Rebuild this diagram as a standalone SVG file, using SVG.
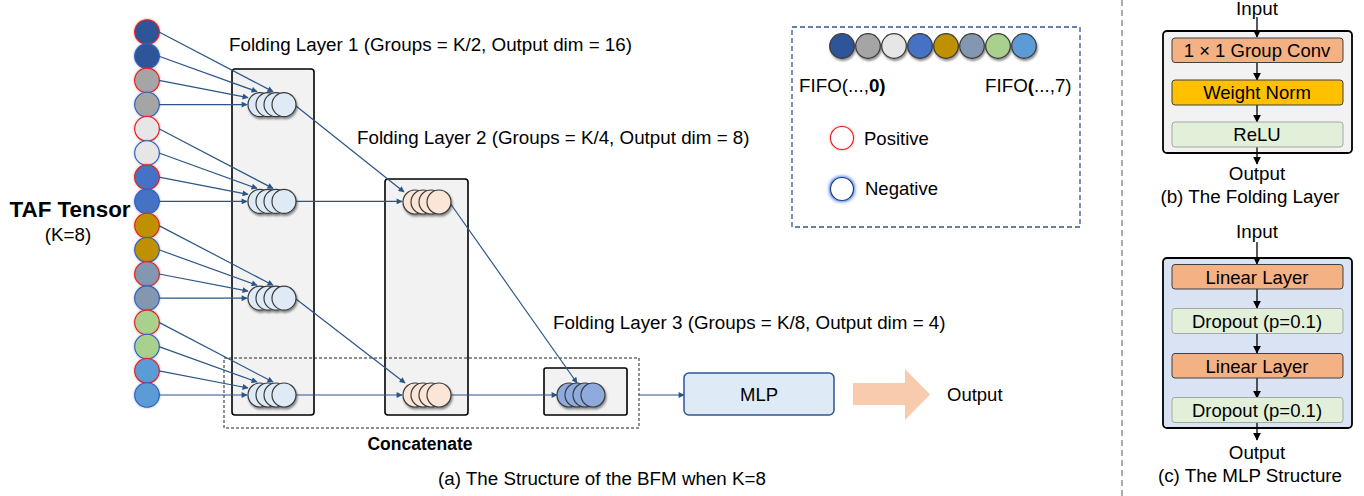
<svg xmlns="http://www.w3.org/2000/svg" width="1364" height="496" viewBox="0 0 1364 496">
<style>
text{font-family:"Liberation Sans",Arial,sans-serif;fill:#000}
.t16{font-size:18.8px}
.t17{font-size:18.5px}
.conn line{stroke:#2B5587;stroke-width:1.2;fill:none}
.blk line{stroke:#000;stroke-width:1.3}
.layer{fill:#F2F2F2;stroke:#000;stroke-width:1.6}
.sc{stroke:#3A3A3A;stroke-width:1.2}
.pos{stroke:#E02020;stroke-width:1.1}
.neg{stroke:#3060B8;stroke-width:1.1}
.box{stroke:#404040;stroke-width:1}
</style>
<defs>
<marker id="ah" viewBox="0 0 10 10" refX="9" refY="5" markerWidth="7" markerHeight="6" markerUnits="userSpaceOnUse" orient="auto"><path d="M0,0L10,5L0,10z" fill="#2B5587"/></marker>
<marker id="ak" viewBox="0 0 10 10" refX="9" refY="5" markerWidth="8" markerHeight="8" markerUnits="userSpaceOnUse" orient="auto"><path d="M0,0L10,5L0,10z" fill="#000"/></marker>
<filter id="glowR" x="-40%" y="-40%" width="180%" height="180%"><feGaussianBlur in="SourceAlpha" stdDeviation="1.1" result="b"/><feFlood flood-color="#FF2020" flood-opacity="0.55"/><feComposite in2="b" operator="in" result="g"/><feMerge><feMergeNode in="g"/><feMergeNode in="SourceGraphic"/></feMerge></filter>
<filter id="glowB" x="-40%" y="-40%" width="180%" height="180%"><feGaussianBlur in="SourceAlpha" stdDeviation="1.1" result="b"/><feFlood flood-color="#2F6BE0" flood-opacity="0.55"/><feComposite in2="b" operator="in" result="g"/><feMerge><feMergeNode in="g"/><feMergeNode in="SourceGraphic"/></feMerge></filter>
<filter id="glowB2" x="-50%" y="-50%" width="200%" height="200%"><feMorphology in="SourceAlpha" operator="dilate" radius="1" result="d"/><feGaussianBlur in="d" stdDeviation="1.5" result="b"/><feFlood flood-color="#2F6BE0" flood-opacity="0.8"/><feComposite in2="b" operator="in" result="g"/><feMerge><feMergeNode in="g"/><feMergeNode in="SourceGraphic"/></feMerge></filter>
<filter id="sh" x="-40%" y="-40%" width="180%" height="180%"><feDropShadow dx="1" dy="2" stdDeviation="1.2" flood-color="#000" flood-opacity="0.45"/></filter>
</defs>
<rect width="1364" height="496" fill="#fff"/>

<!-- titles -->
<text class="t16" x="229" y="51">Folding Layer 1 (Groups = K/2, Output dim = 16)</text>
<text class="t16" x="357" y="144">Folding Layer 2 (Groups = K/4, Output dim = 8)</text>
<text class="t16" x="553" y="329">Folding Layer 3 (Groups = K/8, Output dim = 4)</text>
<text x="70" y="217" text-anchor="middle" font-size="22.4" font-weight="bold">TAF Tensor</text>
<text class="t16" x="68" y="241" text-anchor="middle">(K=8)</text>

<!-- layer boxes -->
<g id="layer1"><rect class="layer" x="232" y="69" width="82" height="346" rx="3"/></g>
<g id="layer2"><rect class="layer" x="385" y="179" width="83" height="236" rx="3"/></g>
<g id="concat"><rect x="224" y="358" width="415" height="70" fill="none" stroke="#222" stroke-width="1" stroke-dasharray="3 2"/>
<text x="420" y="450" text-anchor="middle" font-size="17.5" font-weight="bold">Concatenate</text></g>
<g id="layer3"><rect class="layer" x="544" y="368" width="83" height="47" rx="2"/></g>

<!-- TAF tensor circles -->
<g id="taf">
<circle cx="147" cy="32" r="12.3" fill="#2F5597" class="pos" filter="url(#glowR)"/>
<circle cx="147" cy="56.2" r="12.3" fill="#2F5597" class="neg" filter="url(#glowB)"/>
<circle cx="147" cy="80.4" r="12.3" fill="#A5A5A5" class="pos" filter="url(#glowR)"/>
<circle cx="147" cy="104.6" r="12.3" fill="#A5A5A5" class="neg" filter="url(#glowB)"/>
<circle cx="147" cy="128.8" r="12.3" fill="#E7E6E6" class="pos" filter="url(#glowR)"/>
<circle cx="147" cy="153" r="12.3" fill="#E7E6E6" class="neg" filter="url(#glowB)"/>
<circle cx="147" cy="177.2" r="12.3" fill="#4472C4" class="pos" filter="url(#glowR)"/>
<circle cx="147" cy="201.4" r="12.3" fill="#4472C4" class="neg" filter="url(#glowB)"/>
<circle cx="147" cy="225.6" r="12.3" fill="#BF9000" class="pos" filter="url(#glowR)"/>
<circle cx="147" cy="249.8" r="12.3" fill="#BF9000" class="neg" filter="url(#glowB)"/>
<circle cx="147" cy="274" r="12.3" fill="#8497B0" class="pos" filter="url(#glowR)"/>
<circle cx="147" cy="298.2" r="12.3" fill="#8497B0" class="neg" filter="url(#glowB)"/>
<circle cx="147" cy="322.4" r="12.3" fill="#A9D18E" class="pos" filter="url(#glowR)"/>
<circle cx="147" cy="346.6" r="12.3" fill="#A9D18E" class="neg" filter="url(#glowB)"/>
<circle cx="147" cy="370.8" r="12.3" fill="#5B9BD5" class="pos" filter="url(#glowR)"/>
<circle cx="147" cy="395" r="12.3" fill="#5B9BD5" class="neg" filter="url(#glowB)"/>
</g>

<!-- connectors -->
<g id="connectors" class="conn">
<line x1="159" y1="32" x2="273" y2="91.6" marker-end="url(#ah)"/>
<line x1="159" y1="56.2" x2="257" y2="91.6" marker-end="url(#ah)"/>
<line x1="159" y1="80.4" x2="248" y2="97.6" marker-end="url(#ah)"/>
<line x1="159" y1="104.6" x2="247" y2="104.6" marker-end="url(#ah)"/>
<line x1="159" y1="128.8" x2="273" y2="188.4" marker-end="url(#ah)"/>
<line x1="159" y1="153" x2="257" y2="188.4" marker-end="url(#ah)"/>
<line x1="159" y1="177.2" x2="248" y2="194.4" marker-end="url(#ah)"/>
<line x1="159" y1="201.4" x2="247" y2="201.4" marker-end="url(#ah)"/>
<line x1="159" y1="225.6" x2="273" y2="285.2" marker-end="url(#ah)"/>
<line x1="159" y1="249.8" x2="257" y2="285.2" marker-end="url(#ah)"/>
<line x1="159" y1="274" x2="248" y2="291.2" marker-end="url(#ah)"/>
<line x1="159" y1="298.2" x2="247" y2="298.2" marker-end="url(#ah)"/>
<line x1="159" y1="322.4" x2="273" y2="382" marker-end="url(#ah)"/>
<line x1="159" y1="346.6" x2="257" y2="382" marker-end="url(#ah)"/>
<line x1="159" y1="370.8" x2="248" y2="388" marker-end="url(#ah)"/>
<line x1="159" y1="395" x2="247" y2="395" marker-end="url(#ah)"/>
<line x1="296" y1="106" x2="404" y2="192" marker-end="url(#ah)"/>
<line x1="296" y1="201.4" x2="402" y2="201.4" marker-end="url(#ah)"/>
<line x1="296" y1="299" x2="405" y2="383" marker-end="url(#ah)"/>
<line x1="296" y1="395" x2="402" y2="395" marker-end="url(#ah)"/>
<line x1="450" y1="203" x2="577" y2="383" marker-end="url(#ah)"/>
<line x1="451" y1="395" x2="557" y2="395" marker-end="url(#ah)"/>
<line x1="639" y1="395" x2="684" y2="395" marker-end="url(#ah)"/>
</g>

<!-- stacks layer 1 -->
<g id="l1s1" filter="url(#sh)"><circle class="sc" cx="260" cy="104.6" r="12" fill="#DEEBF7"/><circle class="sc" cx="268" cy="104.6" r="12" fill="#DEEBF7"/><circle class="sc" cx="276" cy="104.6" r="12" fill="#DEEBF7"/><circle class="sc" cx="284" cy="104.6" r="12" fill="#DEEBF7"/></g>
<g id="l1s2" filter="url(#sh)"><circle class="sc" cx="260" cy="201.4" r="12" fill="#DEEBF7"/><circle class="sc" cx="268" cy="201.4" r="12" fill="#DEEBF7"/><circle class="sc" cx="276" cy="201.4" r="12" fill="#DEEBF7"/><circle class="sc" cx="284" cy="201.4" r="12" fill="#DEEBF7"/></g>
<g id="l1s3" filter="url(#sh)"><circle class="sc" cx="260" cy="298.2" r="12" fill="#DEEBF7"/><circle class="sc" cx="268" cy="298.2" r="12" fill="#DEEBF7"/><circle class="sc" cx="276" cy="298.2" r="12" fill="#DEEBF7"/><circle class="sc" cx="284" cy="298.2" r="12" fill="#DEEBF7"/></g>
<g id="l1s4" filter="url(#sh)"><circle class="sc" cx="260" cy="395" r="12" fill="#DEEBF7"/><circle class="sc" cx="268" cy="395" r="12" fill="#DEEBF7"/><circle class="sc" cx="276" cy="395" r="12" fill="#DEEBF7"/><circle class="sc" cx="284" cy="395" r="12" fill="#DEEBF7"/></g>
<!-- stacks layer 2 -->
<g id="l2s1" filter="url(#sh)"><circle class="sc" cx="415" cy="202" r="12" fill="#FBE5D6"/><circle class="sc" cx="423" cy="202" r="12" fill="#FBE5D6"/><circle class="sc" cx="431" cy="202" r="12" fill="#FBE5D6"/><circle class="sc" cx="439" cy="202" r="12" fill="#FBE5D6"/></g>
<g id="l2s2" filter="url(#sh)"><circle class="sc" cx="415" cy="395" r="12" fill="#FBE5D6"/><circle class="sc" cx="423" cy="395" r="12" fill="#FBE5D6"/><circle class="sc" cx="431" cy="395" r="12" fill="#FBE5D6"/><circle class="sc" cx="439" cy="395" r="12" fill="#FBE5D6"/></g>
<!-- stack layer 3 -->
<g id="l3s1" filter="url(#sh)"><circle class="sc" cx="569" cy="395" r="12" fill="#8FAADC"/><circle class="sc" cx="577" cy="395" r="12" fill="#8FAADC"/><circle class="sc" cx="585" cy="395" r="12" fill="#8FAADC"/><circle class="sc" cx="593" cy="395" r="12" fill="#8FAADC"/></g>

<!-- MLP and output -->
<g id="mlp"><rect x="684" y="373" width="150" height="42" rx="5" fill="#DEEBF7" stroke="#2F5597" stroke-width="1.5"/>
<text class="t17" x="759" y="401" text-anchor="middle">MLP</text></g>
<g id="bigarrow"><polygon points="853,383 905,383 905,369 930,394.5 905,420 905,405 853,405" fill="#F8CBAD"/></g>
<g id="output"><text class="t17" x="947" y="401">Output</text></g>
<text class="t16" x="602" y="485" text-anchor="middle">(a) The Structure of the BFM when K=8</text>

<!-- legend -->
<g id="legend">
<rect x="792" y="27" width="288" height="200" fill="none" stroke="#2F5597" stroke-width="1.3" stroke-dasharray="5 3"/>
<g filter="url(#sh)">
<circle class="sc" cx="842" cy="46" r="12.3" fill="#2F5597"/>
<circle class="sc" cx="868" cy="46" r="12.3" fill="#A5A5A5"/>
<circle class="sc" cx="894" cy="46" r="12.3" fill="#E7E6E6"/>
<circle class="sc" cx="920" cy="46" r="12.3" fill="#4472C4"/>
<circle class="sc" cx="946" cy="46" r="12.3" fill="#BF9000"/>
<circle class="sc" cx="972" cy="46" r="12.3" fill="#8497B0"/>
<circle class="sc" cx="998" cy="46" r="12.3" fill="#A9D18E"/>
<circle class="sc" cx="1024" cy="46" r="12.3" fill="#5B9BD5"/>
</g>
<text class="t16" x="799" y="92">FIFO(...,<tspan font-weight="bold">0)</tspan></text>
<text class="t16" x="985" y="92">FIFO<tspan font-weight="bold">(</tspan>...,7)</text>
<circle cx="842" cy="138" r="11.5" fill="#fff" class="pos" filter="url(#glowR)"/>
<text class="t17" x="864" y="145">Positive</text>
<circle cx="842" cy="189" r="11.5" fill="#fff" stroke="#1F3F80" stroke-width="1.2" filter="url(#glowB2)"/>
<text class="t17" x="865" y="195">Negative</text>
</g>

<!-- divider -->
<line x1="1122" y1="0" x2="1122" y2="496" stroke="#7F7F7F" stroke-width="1.3" stroke-dasharray="6 4"/>

<!-- (b) folding layer -->
<g id="foldpanel">
<text class="t16" x="1257" y="15" text-anchor="middle">Input</text>
<rect x="1163" y="31" width="189" height="122" rx="4" fill="#F2F2F2" stroke="#000" stroke-width="1.8"/>
<g class="blk">
<line x1="1257" y1="17" x2="1257" y2="37" marker-end="url(#ak)"/>
<line x1="1257" y1="62" x2="1257" y2="80" marker-end="url(#ak)"/>
<line x1="1257" y1="105" x2="1257" y2="122" marker-end="url(#ak)"/>
<line x1="1257" y1="147" x2="1257" y2="164" marker-end="url(#ak)"/>
</g>
<rect class="box" x="1172" y="38" width="171" height="24.5" rx="3" fill="#F4B183"/>
<text class="t17" x="1257" y="57" text-anchor="middle">1 × 1 Group Conv</text>
<rect class="box" x="1172" y="80" width="171" height="25" rx="3" fill="#FFC000"/>
<text class="t17" x="1257" y="99" text-anchor="middle">Weight Norm</text>
<rect x="1172" y="122" width="171" height="25" rx="3" fill="#E2F0D9" stroke="#A6A6A6" stroke-width="1"/>
<text class="t17" x="1257" y="141" text-anchor="middle">ReLU</text>
<text class="t16" x="1257" y="180" text-anchor="middle">Output</text>
<text class="t16" x="1250" y="203" text-anchor="middle">(b) The Folding Layer</text>
</g>

<!-- (c) MLP structure -->
<g id="mlppanel">
<text class="t16" x="1257" y="238" text-anchor="middle">Input</text>
<rect x="1163" y="258" width="189" height="170" rx="4" fill="#DAE3F3" stroke="#000" stroke-width="1.8"/>
<g class="blk">
<line x1="1257" y1="242" x2="1257" y2="264" marker-end="url(#ak)"/>
<line x1="1257" y1="289" x2="1257" y2="308" marker-end="url(#ak)"/>
<line x1="1257" y1="333" x2="1257" y2="353" marker-end="url(#ak)"/>
<line x1="1257" y1="378" x2="1257" y2="398" marker-end="url(#ak)"/>
<line x1="1257" y1="422" x2="1257" y2="440" marker-end="url(#ak)"/>
</g>
<rect class="box" x="1172" y="264.5" width="171" height="24.5" rx="3" fill="#F4B183"/>
<text class="t17" x="1257" y="283.5" text-anchor="middle">Linear Layer</text>
<rect x="1172" y="308.5" width="171" height="25" rx="3" fill="#E2F0D9" stroke="#A6A6A6" stroke-width="1"/>
<text class="t17" x="1257" y="327.5" text-anchor="middle">Dropout (p=0.1)</text>
<rect class="box" x="1172" y="353.5" width="171" height="24.5" rx="3" fill="#F4B183"/>
<text class="t17" x="1257" y="372.5" text-anchor="middle">Linear Layer</text>
<rect x="1172" y="397.5" width="171" height="25" rx="3" fill="#E2F0D9" stroke="#A6A6A6" stroke-width="1"/>
<text class="t17" x="1257" y="416.5" text-anchor="middle">Dropout (p=0.1)</text>
<text class="t16" x="1257" y="459" text-anchor="middle">Output</text>
<text class="t16" x="1250" y="482" text-anchor="middle">(c) The MLP Structure</text>
</g>
</svg>
